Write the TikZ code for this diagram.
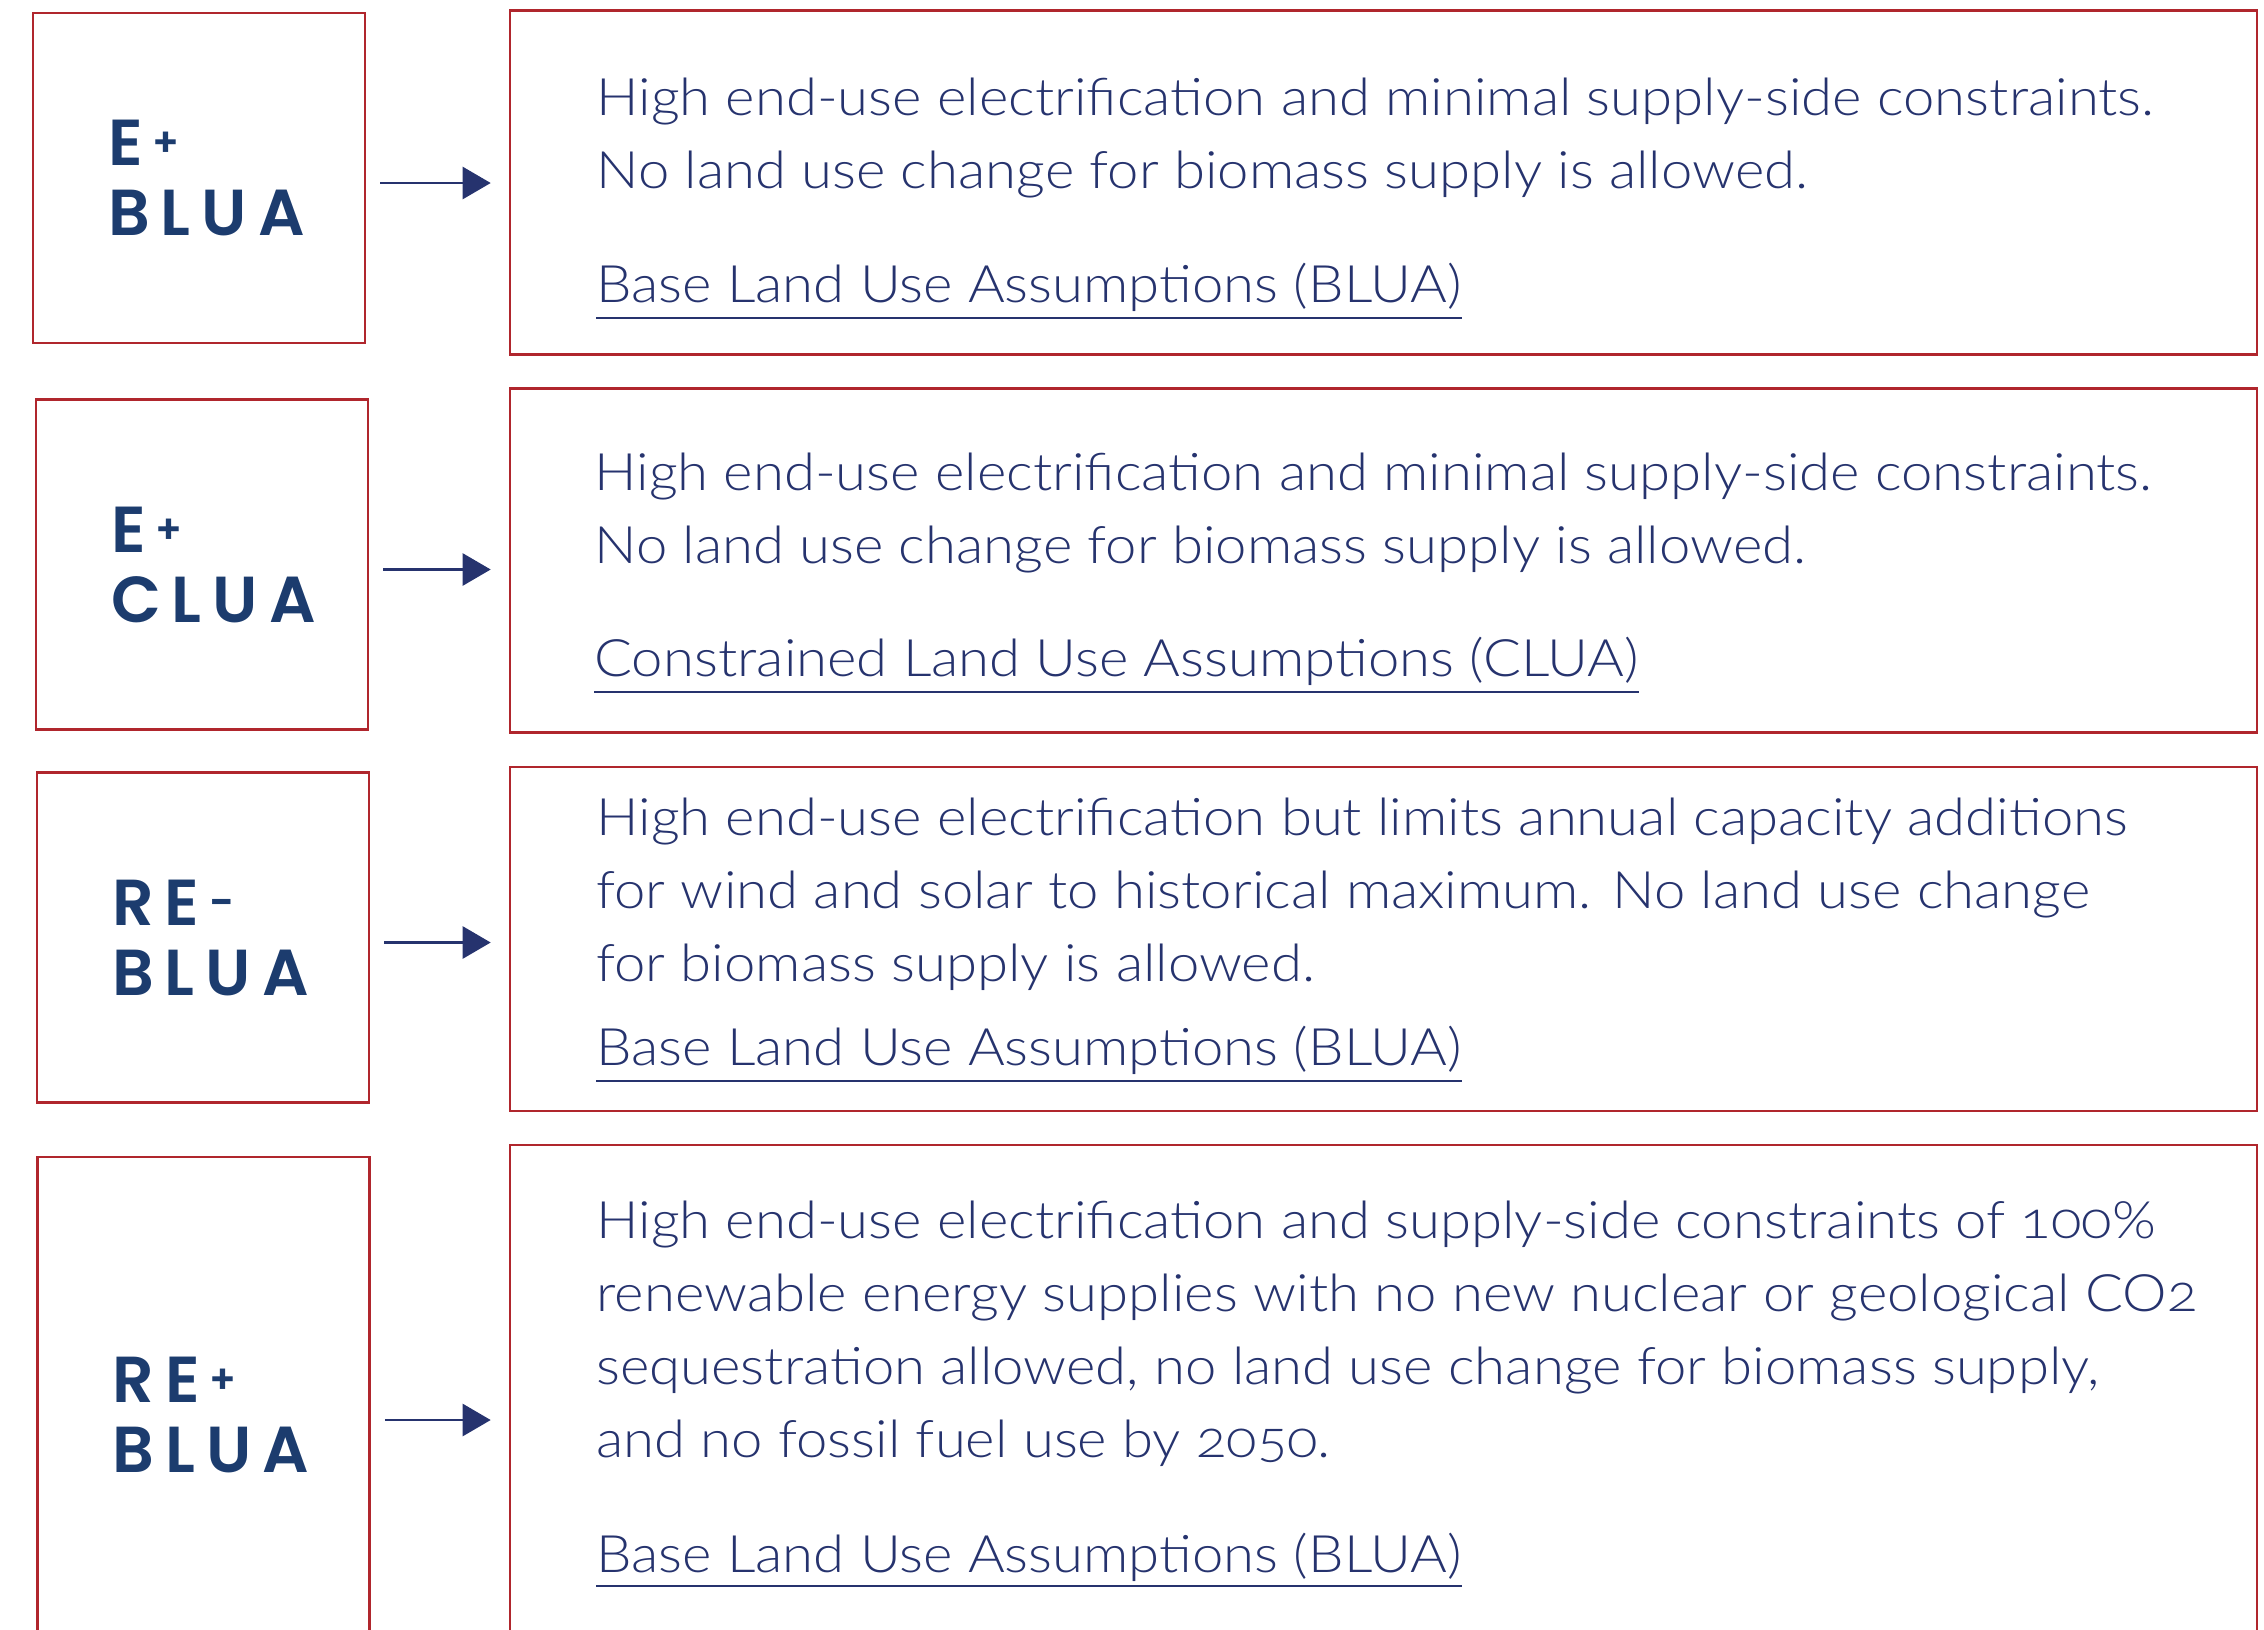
\documentclass[tikz,border=0pt]{standalone}
\usepackage{fontspec}
\setmainfont{Lato}[UprightFont=* Light, Numbers=OldStyle, FakeStretch=1.09]
\newfontfamily\tagfont{Poppins}[UprightFont=* SemiBold, LetterSpace=17]
\usetikzlibrary{arrows.meta}

\definecolor{boxred}{HTML}{B0262D}
\definecolor{tagblue}{HTML}{1C3C6E}
\definecolor{textblue}{HTML}{26336E}

% small raised sign after the scenario letters
\newcommand{\tagplus}{\hspace{5pt}\raisebox{4.4pt}{\fontsize{20pt}{20pt}\selectfont +}}
\newcommand{\tagminus}{\hspace{5pt}\raisebox{3.8pt}{\fontsize{21.7pt}{21.7pt}\selectfont -}}

\begin{document}
\begin{tikzpicture}[
    x=0.5pt, y=-0.5pt,
    tag/.style={draw=boxred, line width=1.3pt, minimum width=166pt, minimum height=165pt,
                text width=91pt, align=left, text=tagblue,
                font=\tagfont\fontsize{32.5pt}{35pt}\selectfont},
    frame/.style={draw=boxred, line width=1.3pt, minimum width=873.5pt, minimum height=172pt},
    desc/.style={anchor=base west, align=left, inner sep=0pt, text=textblue,
                 font=\fontsize{25.8pt}{36.5pt}\selectfont},
    uline/.style={draw=textblue, line width=1.35pt},
    flow/.style={draw=textblue, line width=1.3pt, -{Triangle[length=14pt,width=16pt]},
                 shorten <=7pt, shorten >=9pt}]

\useasboundingbox (0,0) rectangle (2264,1629);
\clip (0,0) rectangle (2264,1629);

% scenario boxes
\node[tag] (lab1) at (199,178) {E\tagplus\\BLUA};
\node[tag] (lab2) at (202,564.5) {E\tagplus\\CLUA};
\node[tag] (lab3) at (203,937.5) {RE\tagminus\\BLUA};
\node[tag, minimum height=258pt] (lab4) at (203.5,1415) {RE\tagplus\\BLUA};

% description frames
\node[frame] (box1) at (1383.5,182.5) {};
\node[frame] (box2) at (1383.5,560.5) {};
\node[frame] (box3) at (1383.5,939) {};
\node[frame, minimum height=275pt] (box4) at (1383.5,1420) {};

% arrows
\draw[flow] (lab1.east) ++(0,5) coordinate (s1) -- (s1 -| box1.west);
\draw[flow] (lab2.east) ++(0,5) coordinate (s2) -- (s2 -| box2.west);
\draw[flow] (lab3.east) ++(0,5) coordinate (s3) -- (s3 -| box3.west);
\draw[flow] (lab4.east) ++(0,5) coordinate (s4) -- (s4 -| box4.west);

% texts (base = last line)
\node[desc] (d1) at (596,188) {High end-use electrification and minimal supply-side constraints.\\
  No land use change for biomass supply is allowed.};
\node[desc] (u1) at (596,302) {Base Land Use Assumptions (BLUA)};
\draw[uline] ([yshift=-8pt]u1.base west) -- ([yshift=-8pt]u1.base east);

\node[desc] (d2) at (594,563) {High end-use electrification and minimal supply-side constraints.\\
  No land use change for biomass supply is allowed.};
\node[desc] (u2) at (594,676) {Constrained Land Use Assumptions (CLUA)};
\draw[uline] ([yshift=-8pt]u2.base west) -- ([yshift=-8pt]u2.base east);

\node[desc] (d3) at (596,981) {High end-use electrification but limits annual capacity additions\\
  for wind and solar to historical maximum. No land use change\\
  for biomass supply is allowed.};
\node[desc] (u3) at (596,1065) {Base Land Use Assumptions (BLUA)};
\draw[uline] ([yshift=-8pt]u3.base west) -- ([yshift=-8pt]u3.base east);

\node[desc] (d4) at (596,1457) {High end-use electrification and supply-side constraints of 100\%\\
  renewable energy supplies with no new nuclear or geological CO2\\
  sequestration allowed, no land use change for biomass supply,\\
  and no fossil fuel use by 2050.};
\node[desc] (u4) at (596,1572) {Base Land Use Assumptions (BLUA)};
\draw[uline] ([yshift=-7pt]u4.base west) -- ([yshift=-7pt]u4.base east);

\end{tikzpicture}
\end{document}
